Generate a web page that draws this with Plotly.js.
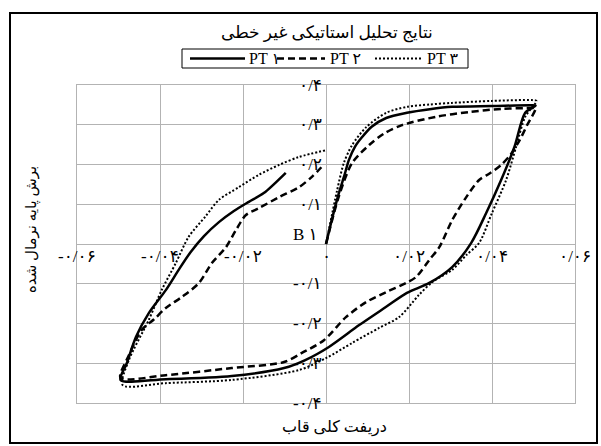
<!DOCTYPE html>
<html>
<head>
<meta charset="utf-8">
<script src="https://cdn.plot.ly/plotly-3.0.1.min.js"></script>
<style>
  html, body { margin: 0; padding: 0; background: #fff; }
  #chart { width: 601px; height: 446px; }
</style>
</head>
<body>
<div id="chart"></div>
<script>
// Normalised base shear vs. total frame drift, three pushover/cyclic cases
const seriesNames = ['PT ۱', 'PT ۲', 'PT ۳'];

// PT 1 (solid)
const pt1Drift = [0, 0.0015, 0.0031, 0.0045, 0.0055, 0.0070, 0.0087, 0.0110, 0.0145, 0.0195, 0.0250, 0.0304, 0.0400, 0.0495, 0.0505,
  0.0480, 0.0454, 0.0422, 0.0386, 0.0350, 0.0304, 0.0249, 0.0195, 0.0145, 0.0080, 0.0007, -0.0050, -0.0101, -0.0227, -0.0386, -0.0495,
  -0.0480, -0.0458, -0.0427, -0.0386, -0.0355, -0.0326, -0.0294, -0.0258, -0.0222, -0.0186, -0.0150, -0.0097];
const pt1Shear = [0, 0.065, 0.128, 0.175, 0.211, 0.245, 0.269, 0.295, 0.317, 0.330, 0.339, 0.345, 0.347, 0.349, 0.348,
  0.330, 0.244, 0.161, 0.078, 0.003, -0.058, -0.098, -0.123, -0.158, -0.204, -0.259, -0.292, -0.312, -0.332, -0.340, -0.342,
  -0.300, -0.234, -0.174, -0.116, -0.065, -0.020, 0.020, 0.055, 0.083, 0.106, 0.128, 0.179];

// PT 2 (dashed)
const pt2Drift = [0, 0.0031, 0.0063, 0.0104, 0.0140, 0.0183, 0.0265, 0.0345, 0.0425, 0.0495, 0.0505,
  0.0485, 0.0466, 0.0445, 0.0422, 0.0395, 0.0369, 0.0338, 0.0304, 0.0273, 0.0249, 0.0217, 0.0193, 0.0145, 0.0097, 0.0048, -0.0005, -0.0058, -0.0101, -0.0227, -0.0386, -0.0495,
  -0.0475, -0.0444, -0.0415, -0.0386, -0.0347, -0.0306, -0.0275, -0.0241, -0.0217, -0.0193, -0.0162, -0.0113, -0.0065, -0.0034, -0.0005];
const pt2Shear = [0, 0.120, 0.204, 0.249, 0.278, 0.299, 0.320, 0.332, 0.340, 0.342, 0.342,
  0.300, 0.260, 0.225, 0.199, 0.178, 0.161, 0.118, 0.060, -0.008, -0.040, -0.083, -0.098, -0.121, -0.146, -0.184, -0.242, -0.274, -0.297, -0.312, -0.330, -0.337,
  -0.280, -0.216, -0.190, -0.161, -0.133, -0.098, -0.048, -0.008, 0.035, 0.073, 0.090, 0.118, 0.143, 0.169, 0.200];

// PT 3 (dotted)
const pt3Drift = [0, 0.0027, 0.0043, 0.0063, 0.0097, 0.0145, 0.0195, 0.0250, 0.0304, 0.0400, 0.0497, 0.0507,
  0.0480, 0.0458, 0.0434, 0.0400, 0.0369, 0.0338, 0.0304, 0.0256, 0.0224, 0.0176, 0.0128, 0.0063, 0.0000, -0.0065, -0.0227, -0.0386, -0.0490,
  -0.0475, -0.0427, -0.0396, -0.0362, -0.0331, -0.0290, -0.0258, -0.0210, -0.0162, -0.0113, -0.0065, 0.0000];
const pt3Shear = [0, 0.136, 0.204, 0.249, 0.294, 0.330, 0.345, 0.351, 0.355, 0.360, 0.362, 0.360,
  0.320, 0.244, 0.161, 0.078, 0.003, -0.028, -0.065, -0.096, -0.128, -0.184, -0.211, -0.249, -0.287, -0.317, -0.342, -0.350, -0.355,
  -0.292, -0.191, -0.116, -0.048, 0.018, 0.070, 0.111, 0.143, 0.174, 0.199, 0.219, 0.236];

// Axis ticks and their Persian labels
const xTickVals = [-0.06, -0.04, -0.02, 0, 0.02, 0.04, 0.06];
const xTickText = ['-۰/۰۶', '-۰/۰۴', '-۰/۰۲', '۰', '۰/۰۲', '۰/۰۴', '۰/۰۶'];
const yTickVals = [0.4, 0.3, 0.2, 0.1, -0.1, -0.2, -0.3, -0.4];
const yTickText = ['۰/۴', '۰/۳', '۰/۲', '۰/۱', '-۰/۱', '-۰/۲', '-۰/۳', '-۰/۴'];
const originLabel = 'B ۱';

const chartTitle = 'نتایج تحلیل استاتیکی غیر خطی';
const xTitle = 'دریفت کلی قاب';
const yTitle = 'برش پایه نرمال شده';

const FONT = 'Liberation Serif, DejaVu Sans, serif';
const GRID = '#b3b3b3';

// Plot area in pixels (used to place the paper-anchored decorations)
const PLOT = { left: 77, right: 575, top: 85, bottom: 403 };
const px = v => (v - PLOT.left) / (PLOT.right - PLOT.left);
const py = v => (PLOT.bottom - v) / (PLOT.bottom - PLOT.top);

const lineStyles = [
  { color: '#000', width: 2.5, dash: 'solid' },
  { color: '#000', width: 2.5, dash: '7px,4px' },
  { color: '#000', width: 2, dash: '2px,2px' }
];

const curveShape = { shape: 'spline', smoothing: 0.8 };
const traces = [
  { x: pt1Drift, y: pt1Shear, name: seriesNames[0], mode: 'lines',
    line: Object.assign({}, curveShape, lineStyles[0]) },
  { x: pt2Drift, y: pt2Shear, name: seriesNames[1], mode: 'lines',
    line: Object.assign({}, curveShape, lineStyles[1]) },
  { x: pt3Drift, y: pt3Shear, name: seriesNames[2], mode: 'lines',
    line: Object.assign({}, curveShape, lineStyles[2]) }
];

const tickFont = { family: FONT, size: 17, color: '#000' };
const annotations = [];
xTickVals.forEach((v, i) => annotations.push({
  x: v, y: 0, xref: 'x', yref: 'y', text: xTickText[i], showarrow: false,
  xanchor: 'center', yanchor: 'top', yshift: -1, font: tickFont
}));
yTickVals.forEach((v, i) => annotations.push({
  x: 0, y: v, xref: 'x', yref: 'y', text: yTickText[i], showarrow: false,
  xanchor: 'right', yanchor: 'middle', xshift: -2, font: tickFont
}));
annotations.push({
  x: 0, y: 0, xref: 'x', yref: 'y', text: originLabel, showarrow: false,
  xanchor: 'right', yanchor: 'middle', xshift: -6, yshift: 10, font: { family: FONT, size: 17, color: '#000' }
});
annotations.push({
  x: px(327), y: py(33), xref: 'paper', yref: 'paper', text: chartTitle, showarrow: false,
  xanchor: 'center', yanchor: 'middle', font: { family: FONT, size: 17, color: '#000' }
});
annotations.push({
  x: px(334), y: py(427), xref: 'paper', yref: 'paper', text: xTitle, showarrow: false,
  xanchor: 'center', yanchor: 'middle', font: { family: FONT, size: 16, color: '#000' }
});
annotations.push({
  x: px(32), y: py(230), xref: 'paper', yref: 'paper', text: yTitle, showarrow: false,
  textangle: -90, xanchor: 'center', yanchor: 'middle', font: { family: FONT, size: 15, color: '#000' }
});

// Legend: framed box with a line sample and label for each series
const legendBox = { x0: 182, x1: 468, y0: 49, y1: 68 };
const legendSamples = [[190, 245], [277, 325], [375, 423]];
const legendTextX = [247, 328, 425];
const legendMidY = (legendBox.y0 + legendBox.y1) / 2;

const shapes = [
  { type: 'rect', xref: 'paper', yref: 'paper',
    x0: px(10), x1: px(597), y0: py(443), y1: py(13),
    line: { color: '#000', width: 2 } },
  { type: 'rect', xref: 'paper', yref: 'paper',
    x0: px(legendBox.x0), x1: px(legendBox.x1), y0: py(legendBox.y1), y1: py(legendBox.y0),
    line: { color: '#000', width: 1 }, fillcolor: '#fff' }
];
legendSamples.forEach((s, i) => {
  shapes.push({ type: 'line', xref: 'paper', yref: 'paper',
    x0: px(s[0]), x1: px(s[1]), y0: py(legendMidY), y1: py(legendMidY),
    line: lineStyles[i] });
  annotations.push({ x: px(legendTextX[i]), y: py(legendMidY), xref: 'paper', yref: 'paper',
    text: seriesNames[i], showarrow: false, xanchor: 'left', yanchor: 'middle',
    font: { family: FONT, size: 16, color: '#000' } });
});

const axisBase = {
  showgrid: true, gridcolor: GRID, gridwidth: 1,
  zeroline: true, zerolinecolor: GRID, zerolinewidth: 1,
  showline: true, mirror: true, linecolor: GRID, linewidth: 1,
  showticklabels: false, ticks: '', fixedrange: true
};

const layout = {
  width: 601, height: 446,
  margin: { l: PLOT.left, r: 601 - PLOT.right, t: PLOT.top, b: 446 - PLOT.bottom },
  paper_bgcolor: '#fff', plot_bgcolor: '#fff',
  xaxis: Object.assign({}, axisBase, { range: [-0.06, 0.06], tickvals: xTickVals }),
  yaxis: Object.assign({}, axisBase, { range: [-0.4, 0.4], tickvals: yTickVals }),
  showlegend: false,
  annotations: annotations,
  shapes: shapes
};

Plotly.newPlot('chart', traces, layout, { displayModeBar: false, staticPlot: true });
</script>
</body>
</html>
